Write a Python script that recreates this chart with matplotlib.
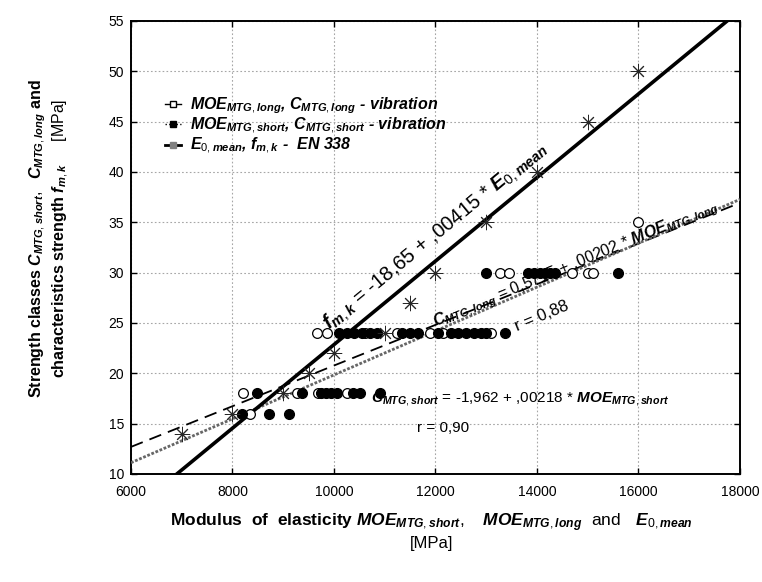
import numpy as np
import matplotlib
matplotlib.use('Agg')
import matplotlib.pyplot as plt
from matplotlib.lines import Line2D

plt.rcParams['font.family'] = 'Liberation Sans'
plt.rcParams['mathtext.fontset'] = 'custom'
plt.rcParams['mathtext.rm'] = 'Liberation Sans'
plt.rcParams['mathtext.it'] = 'Liberation Sans:italic:bold'
plt.rcParams['mathtext.bf'] = 'Liberation Sans:bold'

# EN 338 classes
e0_mean = [7000, 8000, 9000, 9500, 10000, 11000, 11500, 12000, 13000, 14000, 15000, 16000]
f_mk = [14, 16, 18, 20, 22, 24, 27, 30, 35, 40, 45, 50]

# MTG short (filled circles)
moe_short = [8190, 8720, 9110,
             8480, 9370, 9750, 9850, 9950, 10050, 10380, 10510, 10900,
             10100, 10250, 10400, 10550, 10700, 10850, 11350, 11500, 11650, 12050,
             12300, 12450, 12600, 12750, 12900, 13000, 13370,
             13000, 13820, 13950, 14050, 14150, 14250, 14350, 15600]
c_short = [16, 16, 16,
           18, 18, 18, 18, 18, 18, 18, 18, 18,
           24, 24, 24, 24, 24, 24, 24, 24, 24, 24,
           24, 24, 24, 24, 24, 24, 24,
           30, 30, 30, 30, 30, 30, 30, 30]

# MTG long (open circles)
moe_long = [8340,
            8210, 9270, 9680, 10250,
            9665, 9860, 10610, 11240, 11900, 12150, 13100,
            13270, 13450, 14690, 15000, 15100,
            16000]
c_long = [16,
          18, 18, 18, 18,
          24, 24, 24, 24, 24, 24, 24,
          30, 30, 30, 30, 30,
          35]

# regression coefficients
en_a, en_b = -18.65, 0.00415
long_a, long_b = 0.5715, 0.00202
short_a, short_b = -1.962, 0.00218

fig = plt.figure(figsize=(7.62, 5.82), dpi=100)
ax = fig.add_axes([0.1719, 0.1856, 0.7992, 0.7784])

xx = np.array([6000, 18000])
ax.plot(xx, en_a + en_b * xx, color='k', lw=2.6, zorder=4)
ax.plot(xx, long_a + long_b * xx, color='k', lw=1.3, ls=(0, (7, 4)), zorder=3)
ax.plot(xx, short_a + short_b * xx, color='0.4', lw=2.0, ls=(0, (1, 0.6)), zorder=3)

ax.plot(moe_long, c_long, 'o', ms=7, mfc='white', mec='k', mew=0.9, zorder=5)
ax.plot(moe_short, c_short, 'o', ms=7, mfc='k', mec='k', zorder=5)
ax.plot(e0_mean, f_mk, ls='none', marker=(8, 2, 0), ms=11, mec='0.15', mew=0.7, zorder=5)

ax.set_xlim(6000, 18000)
ax.set_ylim(10, 55)
ax.set_xticks(range(6000, 18001, 2000))
ax.set_yticks(range(10, 56, 5))
ax.grid(True, ls=(0, (1.5, 2)), color='0.65', lw=0.8)
ax.tick_params(direction='in', top=True, right=True, length=4, width=1, labelsize=10)
ax.tick_params(axis='x', pad=8)
ax.tick_params(axis='y', pad=5)
for s in ax.spines.values():
    s.set_linewidth(1.4)

# equations
ax.text(9900, 24.3, r'$f_{m,k}$ = -18,65 + ,00415 * $E_{0,mean}$', fontsize=14.5,
        rotation=39.5, rotation_mode='anchor', ha='left', va='baseline', zorder=6)
ax.text(12000, 24.6, r'$C_{MTG,long}$ = 0,5715 + ,00202 * $MOE_{MTG,long}$', fontsize=11.5,
        rotation=22.5, rotation_mode='anchor', ha='left', va='baseline', zorder=6)
ax.text(13620, 24.2, 'r = 0,88', fontsize=12,
        rotation=22.5, rotation_mode='anchor', ha='left', va='baseline', zorder=6)
ax.text(10720, 17.1, r'$C_{MTG,short}$ = -1,962 + ,00218 * $MOE_{MTG,short}$', fontsize=11,
        ha='left', va='baseline', zorder=6)
ax.text(11630, 14.2, 'r = 0,90', fontsize=11, ha='left', va='baseline', zorder=6)

# legend
handles = [
    Line2D([], [], color='k', lw=1, ls='-', marker='s', ms=4, mfc='white', mec='k'),
    Line2D([], [], color='k', lw=1, ls=':', marker='s', ms=4, mfc='k', mec='k'),
    Line2D([], [], color='k', lw=2, ls='-', marker='s', ms=4, mfc='0.5', mec='0.5'),
]
labels = [
    r'$MOE_{MTG,long}$, $C_{MTG,long}$ - vibration',
    r'$MOE_{MTG,short}$, $C_{MTG,short}$ - vibration',
    r'$E_{0,mean}$, $f_{m,k}$ -  EN 338',
]
leg = ax.legend(handles, labels, loc='upper left', bbox_to_anchor=(0.045, 0.85),
                frameon=False, handlelength=1.0, handletextpad=0.6, labelspacing=0.0,
                borderaxespad=0, prop={'size': 11.5, 'weight': 'bold', 'style': 'italic'})

# axis labels
fig.text(0.566, 0.102,
         r'Modulus  of  elasticity $MOE_{MTG,short},\ \ \ MOE_{MTG,long}\ \ \mathrm{and}\ \ \ E_{0,mean}$',
         fontsize=12.5, fontweight='bold', ha='center', va='center')
fig.text(0.567, 0.066, '[MPa]', fontsize=12, ha='center', va='center')
fig.text(0.050, 0.59, r'Strength classes $C_{MTG,short},\ \ C_{MTG,long}$ and',
         fontsize=11.5, fontweight='bold', rotation=90, ha='center', va='center')
fig.text(0.080, 0.59,
         r'characteristics strength $f_{m,k}\ \ \ \ \ \mathrm{[MPa]}$',
         fontsize=11.5, fontweight='bold', rotation=90, ha='center', va='center')

fig.savefig('out.png', dpi=100)
